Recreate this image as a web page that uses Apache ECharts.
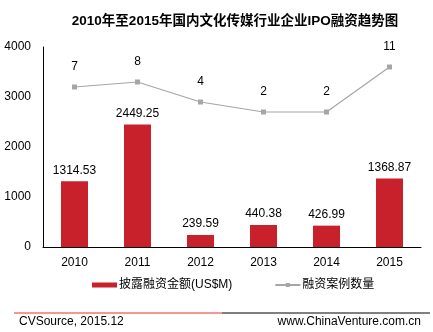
<!DOCTYPE html>
<html><head><meta charset="utf-8">
<script src="https://cdn.jsdelivr.net/npm/echarts@6/dist/echarts.min.js"></script>
<style>html,body{margin:0;padding:0;background:#fff}#c{width:433px;height:332px}</style>
</head><body><div id="c"></div>
<script>
const years = ['2010','2011','2012','2013','2014','2015'];
const amounts = [1314.53, 2449.25, 239.59, 440.38, 426.99, 1368.87];
const counts = [7, 8, 4, 2, 2, 11];
const yTicks = [0, 1000, 2000, 3000, 4000];

const chart = echarts.init(document.getElementById('c'));
const font = 'Arial, "Liberation Sans", "Noto Sans CJK SC"';
chart.setOption({
  animation: false,
  textStyle: {fontFamily: font},
  title: {
    text: '2010年至2015年国内文化传媒行业企业IPO融资趋势图',
    left: 230, textAlign: 'center', top: 10,
    textStyle: {fontSize: 13.5, fontWeight: 'bold', color: '#000', fontFamily: font}
  },
  grid: {left: 43, right: 12, top: 47, bottom: 85},
  legend: {
    top: 274, left: 87, itemGap: 42,
    textStyle: {fontSize: 12, color: '#000', fontFamily: font, padding: [0, 0, 0, -3]},
    data: [
      {name: '披露融资金额(US$M)', icon: 'rect', itemStyle: {color: '#C9212B'}},
      {name: '融资案例数量'}
    ],
    itemWidth: 25, itemHeight: 5
  },
  xAxis: {
    type: 'category', data: years,
    axisLine: {lineStyle: {color: '#000', width: 1}},
    axisTick: {show: false},
    axisLabel: {color: '#000', fontSize: 12, margin: 10}
  },
  yAxis: [{
    type: 'value', min: yTicks[0], max: yTicks[yTicks.length-1], interval: 1000,
    axisLine: {show: true, lineStyle: {color: '#000'}},
    axisTick: {show: false},
    splitLine: {show: false},
    axisLabel: {color: '#000', fontSize: 12, margin: 12, formatter: v => String(v)}
  }, {
    type: 'value', min: -25, max: 15, show: false, splitLine: {show: false}
  }],
  series: [{
    name: '披露融资金额(US$M)', type: 'bar', data: amounts, barWidth: 27,
    itemStyle: {color: '#C9212B'},
    label: {show: true, position: 'top', color: '#000', fontSize: 12, distance: 5}
  }, {
    name: '融资案例数量', type: 'line', yAxisIndex: 1, data: counts,
    symbol: 'rect', symbolSize: 5,
    lineStyle: {color: '#A6A6A6', width: 1.2},
    itemStyle: {color: '#A6A6A6'},
    label: {show: true, position: 'top', color: '#000', fontSize: 12, distance: 12}
  }],
  graphic: [
    {type: 'line', shape: {x1: 14, y1: 313, x2: 222, y2: 313}, style: {stroke: '#E8302E', lineWidth: 1}},
    {type: 'line', shape: {x1: 222, y1: 313, x2: 430, y2: 313}, style: {stroke: '#000', lineWidth: 1}},
    {type: 'text', left: 19, top: 316, style: {text: 'CVSource, 2015.12', fill: '#000', font: '12px ' + font}},
    {type: 'text', right: 12, top: 316, style: {text: 'www.ChinaVenture.com.cn', fill: '#000', font: '12px ' + font}}
  ]
});
</script></body></html>
